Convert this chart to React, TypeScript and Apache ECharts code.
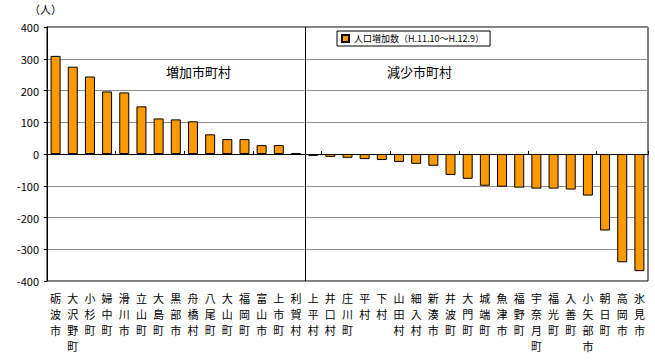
import React, { useEffect, useRef } from "react";
import * as echarts from "echarts";

const categories = [
  "砺波市", "大沢野町", "小杉町", "婦中町", "滑川市", "立山町", "大島町", "黒部市", "舟橋村", "八尾町",
  "大山町", "福岡町", "富山市", "上市町", "利賀村",
  "上平村", "井口村", "庄川町", "平村", "下村", "山田村", "細入村", "新湊市", "井波町", "大門町",
  "城端町", "魚津市", "福野町", "宇奈月町", "福光町", "入善町", "小矢部市", "朝日町", "高岡市", "氷見市",
];
const values = [
  309, 275, 244, 197, 194, 150, 112, 109, 103, 62,
  47, 47, 28, 28, 3,
  -6, -9, -12, -16, -19, -25, -31, -37, -66, -78,
  -100, -103, -106, -109, -109, -112, -131, -241, -341, -369,
];
const seriesName = "人口増加数（H.11.10～H.12.9）";
const increaseCount = 15;
const yTicks = { min: -400, max: 400, interval: 100 };

const FONT = "'Noto Sans CJK JP', 'Noto Sans', sans-serif";

export default function App() {
  const ref = useRef<HTMLDivElement>(null);
  useEffect(() => {
    if (!ref.current) return;
    const chart = echarts.init(ref.current, null, { renderer: "svg" });
    const staticGraphics = [
      { id: "unit", type: "text", left: 29, top: 3, style: { text: "（人）", font: `11px ${FONT}`, fill: "#000" } },
      { id: "inc", type: "text", left: 166, top: 65, style: { text: "増加市町村", font: `13px ${FONT}`, fill: "#000" } },
      { id: "dec", type: "text", left: 387, top: 65, style: { text: "減少市町村", font: `13px ${FONT}`, fill: "#000" } },
    ];
    chart.setOption({
      animation: false,
      textStyle: { fontFamily: FONT, color: "#000" },
      grid: {
        left: 47, right: 7, top: 27, bottom: 83,
        show: true, borderColor: "#000", borderWidth: 1, backgroundColor: "transparent",
      },
      legend: {
        show: true,
        left: 337, top: 31,
        padding: [3, 6, 3, 4],
        borderColor: "#000", borderWidth: 1, backgroundColor: "#fff",
        itemWidth: 7, itemHeight: 7, itemGap: 4,
        textStyle: { fontFamily: FONT, fontSize: 9, color: "#000" },
        data: [{ name: seriesName, icon: "rect" }],
      },
      xAxis: [
        {
          type: "category",
          data: categories,
          position: "bottom",
          boundaryGap: true,
          axisLine: { show: false, onZero: false },
          axisTick: { show: false },
          splitLine: { show: false },
          axisLabel: {
            interval: 0,
            margin: 9,
            fontSize: 11,
            lineHeight: 16,
            color: "#000",
            fontFamily: FONT,
            formatter: (v: string) => v.split("").join("\n"),
            verticalAlign: "top",
          },
        },
        {
          type: "category",
          data: categories,
          position: "bottom",
          boundaryGap: true,
          axisLine: { show: true, onZero: true, lineStyle: { color: "#000", width: 1 } },
          axisTick: { show: true, inside: true, length: 3, lineStyle: { color: "#000" } },
          axisLabel: { show: false },
          splitLine: { show: false },
        },
      ],
      yAxis: {
        type: "value",
        min: yTicks.min, max: yTicks.max, interval: yTicks.interval,
        axisLine: { show: true, lineStyle: { color: "#000" } },
        axisTick: { show: true, length: 3, lineStyle: { color: "#000" } },
        axisLabel: { fontSize: 11, color: "#000", margin: 8, fontFamily: FONT },
        splitLine: { show: true, lineStyle: { color: "#8c8c8c", width: 1 } },
      },
      graphic: staticGraphics,
      series: [
        {
          name: seriesName,
          type: "bar",
          xAxisIndex: 0,
          data: values,
          barWidth: 10,
          itemStyle: { color: "#FF9900", borderColor: "#000", borderWidth: 1 },
        },
      ],
    });
    const xa = chart.convertToPixel({ xAxisIndex: 0 }, categories[increaseCount - 1]) as number;
    const xb = chart.convertToPixel({ xAxisIndex: 0 }, categories[increaseCount]) as number;
    const yTop = chart.convertToPixel({ yAxisIndex: 0 }, yTicks.max) as number;
    const yBot = chart.convertToPixel({ yAxisIndex: 0 }, yTicks.min) as number;
    const xd = Math.round((xa + xb) / 2) + 0.5;
    chart.setOption({
      graphic: [
        ...staticGraphics,
        {
          id: "divider", type: "line", z: 10,
          shape: { x1: xd, y1: yTop, x2: xd, y2: yBot },
          style: { stroke: "#000", lineWidth: 1 },
        },
      ],
    });
    return () => chart.dispose();
  }, []);
  return <div ref={ref} style={{ width: 655, height: 364, position: "absolute", left: 0, top: 0 }} />;
}
